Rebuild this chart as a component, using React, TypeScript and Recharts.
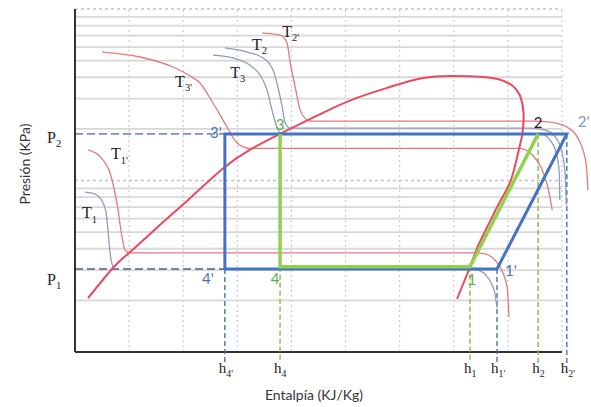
import React from 'react';
import { ComposedChart, Line, XAxis, YAxis, ReferenceLine, ReferenceDot } from 'recharts';

const SERIF = '"Liberation Serif", "DejaVu Serif", serif';
const SANS = 'Lato, "Open Sans", sans-serif';

const BLUE = '#4472c4';
const GREEN = '#92d050';
const RED = '#e84a5a';
const RED_THIN = '#e27a7a';
const GRAY_ISO = '#8e9cc2';

// pressure levels (log axis, arbitrary units)
const P1 = 3.05;
const P1_IDEAL = 3.14;
const P2 = 18.7;

// cycle state points
const stateNames = ['1', '2', '3', '4', "1'", "2'", "3'", "4'"];
const stateH = [73.0, 85.6, 37.9, 37.9, 78.0, 90.9, 27.7, 27.7];
const stateP = [P1_IDEAL, P2, P2, P1_IDEAL, P1, P2, P2, P1];

const idealOrder = ['3', '4', '1', '2'];
const realOrder = ["4'", "3'", "2'", "1'", "4'"];
const dropNames = ["4'", '4', '1', "1'", '2', "2'"];

// saturation dome
const dome = [
  { h: 2.4, p: 2.06 }, { h: 7.0, p: 3.09 }, { h: 10.2, p: 3.83 }, { h: 15.7, p: 5.5 },
  { h: 21.3, p: 7.91 }, { h: 27.4, p: 11.8 }, { h: 32.3, p: 15.1 }, { h: 37.9, p: 18.7 },
  { h: 45.8, p: 24.8 }, { h: 52.1, p: 30.3 }, { h: 58.2, p: 35.1 }, { h: 64.3, p: 39.6 },
  { h: 69.9, p: 40.7 }, { h: 74.8, p: 40.3 }, { h: 78.3, p: 38.9 }, { h: 80.9, p: 35.6 },
  { h: 82.3, p: 30.9 }, { h: 82.9, p: 24.8 }, { h: 82.7, p: 18.9 }, { h: 81.9, p: 14.5 },
  { h: 80.6, p: 10.1 }, { h: 78.7, p: 7.69 }, { h: 76.1, p: 5.29 }, { h: 74.4, p: 4.1 },
  { h: 73.0, p: 3.13 }, { h: 70.6, p: 2.04 },
];

// isotherms
const t1Left = [
  { h: 1.85, p: 8.56 }, { h: 3.7, p: 8.33 }, { h: 4.99, p: 7.6 }, { h: 5.73, p: 6.55 },
  { h: 6.1, p: 5.15 }, { h: 6.47, p: 3.83 }, { h: 6.84, p: 3.26 }, { h: 7.39, p: 3.05 },
];
const t1Right = [
  { h: 73.0, p: 3.05 }, { h: 74.9, p: 2.97 }, { h: 76.2, p: 2.74 }, { h: 77.1, p: 2.46 },
  { h: 77.6, p: 2.21 }, { h: 78.0, p: 1.81 },
];
const t1Prime = [
  { h: 2.4, p: 15.1 }, { h: 5.18, p: 13.2 }, { h: 6.28, p: 11.5 }, { h: 6.84, p: 10.07 },
  { h: 7.76, p: 7.39 }, { h: 8.69, p: 4.69 }, { h: 9.24, p: 3.93 }, { h: 10.17, p: 3.78 },
  { h: 73.9, p: 3.78 }, { h: 75.8, p: 3.73 }, { h: 77.6, p: 3.44 }, { h: 79.1, p: 2.89 },
  { h: 79.9, p: 2.36 }, { h: 80.2, p: 1.6 },
];
const t2 = [
  { h: 27.7, p: 59.3 }, { h: 31.8, p: 56.1 }, { h: 34.8, p: 51.8 }, { h: 36.6, p: 44.1 },
  { h: 37.5, p: 35.1 }, { h: 38.3, p: 26.8 }, { h: 38.8, p: 21.9 }, { h: 39.7, p: 20.2 },
  { h: 84.1, p: 20.2 }, { h: 86.9, p: 19.7 }, { h: 88.9, p: 17.7 }, { h: 90.0, p: 14.7 },
  { h: 90.6, p: 10.8 }, { h: 90.8, p: 7.2 },
];
const t2Prime = [
  { h: 34.6, p: 72.4 }, { h: 37.9, p: 70.5 }, { h: 39.2, p: 63.4 }, { h: 39.7, p: 50.4 },
  { h: 40.7, p: 35.1 }, { h: 41.6, p: 25.8 }, { h: 42.5, p: 23.1 }, { h: 43.4, p: 22.2 },
  { h: 85.0, p: 22.2 }, { h: 87.8, p: 21.9 }, { h: 90.9, p: 20.5 }, { h: 93.3, p: 16.8 },
  { h: 94.5, p: 12.3 }, { h: 94.8, p: 8.81 },
];
const t3 = [
  { h: 25.5, p: 53.9 }, { h: 29.2, p: 51.8 }, { h: 32.3, p: 47.1 }, { h: 34.2, p: 41.2 },
  { h: 35.5, p: 33.7 }, { h: 36.4, p: 25.8 }, { h: 37.3, p: 20.5 }, { h: 38.1, p: 18.7 },
  { h: 86.0, p: 18.7 }, { h: 87.8, p: 17.2 }, { h: 88.9, p: 14.7 }, { h: 89.5, p: 11.2 },
  { h: 89.6, p: 7.69 },
];
const t3Prime = [
  { h: 4.99, p: 56.1 }, { h: 12.0, p: 52.5 }, { h: 18.1, p: 45.9 }, { h: 21.3, p: 40.7 },
  { h: 23.1, p: 37.0 }, { h: 25.5, p: 28.3 }, { h: 28.1, p: 20.5 }, { h: 29.9, p: 16.6 },
  { h: 32.3, p: 15.4 }, { h: 82.3, p: 15.4 }, { h: 84.5, p: 14.1 }, { h: 86.1, p: 12.0 },
  { h: 87.4, p: 9.17 }, { h: 88.2, p: 6.73 },
];

// isotherm labels
const isoLabelSub = ['1', "1'", "3'", '3', '2', "2'"];
const isoLabelH = [1.3, 6.65, 18.5, 28.7, 32.7, 38.3];
const isoLabelP = [6.04, 13.3, 35.1, 39.6, 57.7, 68.7];

// axes / grid
const pTicks = [1, 2, 3, 4, 5, 6, 7, 8, 9, 10, 20, 30, 40, 50, 60, 70, 80, 90, 100];
const pGrid = [2, 3, 4, 5, 6, 7, 8, 9, 20, 30, 40, 50, 60, 70, 80, 90];
const pDecades = [10, 100];
const hGrid = [10, 20, 30, 40, 50, 60, 70, 80, 90];
const hTicks = [
  0, 3.33, 6.67, 10, 13.33, 16.67, 20, 23.33, 26.67, 30, 33.33, 36.67, 40, 43.33, 46.67,
  50, 53.33, 56.67, 60, 63.33, 66.67, 70, 73.33, 76.67, 80, 83.33, 86.67, 90,
];
const P_BELOW = 0.863;

const pt = (name: string) => {
  const i = stateNames.indexOf(name);
  return { h: stateH[i], p: stateP[i] };
};

const SubText = ({ x, y, main, sub, size, fill = '#222', family = SERIF, anchor = 'start' }: any) => (
  <text x={x} y={y} fontFamily={family} fontSize={size} fill={fill} textAnchor={anchor}>
    {main}
    <tspan fontSize={size * 0.66} dy={size * 0.28}>{sub}</tspan>
  </text>
);

const pointStyle: Record<string, { dx: number; dy: number; anchor: string; color: string }> = {
  '1': { dx: 2, dy: 18, anchor: 'middle', color: '#5aae45' },
  '2': { dx: 0, dy: -6, anchor: 'middle', color: '#222' },
  '3': { dx: 0, dy: -4, anchor: 'middle', color: '#5aae45' },
  '4': { dx: -5, dy: 17, anchor: 'middle', color: '#5aae45' },
  "1'": { dx: 8, dy: 7, anchor: 'start', color: '#4a6fc0' },
  "2'": { dx: 11, dy: -7, anchor: 'start', color: '#7f98cc' },
  "3'": { dx: -3, dy: 4, anchor: 'end', color: '#4a6fc0' },
  "4'": { dx: -17, dy: 15, anchor: 'middle', color: '#4a6fc0' },
};

export default function App() {
  const idealCycle = idealOrder.map(pt);
  const realCycle = realOrder.map(pt);

  return (
    <div style={{ position: 'fixed', left: 0, top: 0, background: '#fff' }}>
      <ComposedChart width={591} height={407} margin={{ top: 9, right: 2, left: 15, bottom: 25 }}>
        <XAxis
          dataKey="h"
          type="number"
          domain={[0, 95]}
          ticks={hTicks}
          interval={0}
          tick={false}
          tickSize={4}
          axisLine={false}
          tickLine={{ stroke: '#333', strokeWidth: 1.2 }}
          height={30}
          label={() => (
            <text x={314} y={400} textAnchor="middle" fontFamily={SANS} fontSize={14} fill="#333">
              Entalpía (KJ/Kg)
            </text>
          )}
        />
        <YAxis
          dataKey="p"
          type="number"
          scale="log"
          domain={[1, 100]}
          ticks={pTicks}
          interval={0}
          tick={false}
          tickSize={4}
          width={60}
          axisLine={{ stroke: '#333', strokeWidth: 2 }}
          tickLine={{ stroke: '#333', strokeWidth: 1.2 }}
          label={() => (
            <text
              x={30}
              y={164}
              transform="rotate(-90 30 164)"
              textAnchor="middle"
              fontFamily={SANS}
              fontSize={14}
              fill="#333"
            >
              Presión (KPa)
            </text>
          )}
        />

        {hGrid.map((v) => (
          <ReferenceLine key={'vg' + v} x={v} stroke="#cfcfcf" strokeWidth={1.3} strokeDasharray="2 3" />
        ))}
        {pGrid.map((v) => (
          <ReferenceLine
            key={'hg' + v}
            segment={[{ x: 0, y: v }, { x: 90, y: v }]}
            stroke="#d8d8d8"
            strokeWidth={1.8}
          />
        ))}
        {pDecades.map((v) => (
          <ReferenceLine
            key={'hd' + v}
            segment={[{ x: 0, y: v }, { x: 90, y: v }]}
            stroke="#c4c4c4"
            strokeWidth={1.3}
            strokeDasharray="3 3"
          />
        ))}
        <ReferenceLine segment={[{ x: 0, y: 1 }, { x: 90, y: 1 }]} stroke="#333" strokeWidth={2} />

        <ReferenceLine
          segment={[{ x: 0, y: P2 }, { x: pt("3'").h, y: P2 }]}
          stroke="#7b8fbf"
          strokeWidth={1.6}
          strokeDasharray="8 4"
          label={(props: any) => (
            <SubText x={props.viewBox.x - 28} y={props.viewBox.y + 9} main="P" sub="2" size={16} />
          )}
        />
        <ReferenceLine
          segment={[{ x: 0, y: P1 }, { x: pt("4'").h, y: P1 }]}
          stroke="#4d5d80"
          strokeWidth={1.6}
          strokeDasharray="8 4"
          label={(props: any) => (
            <SubText x={props.viewBox.x - 28} y={props.viewBox.y + 16} main="P" sub="1" size={16} />
          )}
        />
        {dropNames.map((n) => {
          const s = pt(n);
          const primed = n.includes("'");
          return (
            <ReferenceLine
              key={'drop' + n}
              segment={[{ x: s.h, y: s.p }, { x: s.h, y: P_BELOW }]}
              ifOverflow="visible"
              stroke={primed ? BLUE : '#86b84a'}
              strokeWidth={1.4}
              strokeDasharray="5 3"
              label={(props: any) => (
                <SubText
                  x={props.viewBox.x - 6}
                  y={props.viewBox.y + props.viewBox.height + 10}
                  main="h"
                  sub={n}
                  size={15}
                />
              )}
            />
          );
        })}

        <Line data={t1Left} dataKey="p" type="monotone" stroke={GRAY_ISO} strokeWidth={1.3} dot={false} isAnimationActive={false} />
        <Line data={t1Right} dataKey="p" type="monotone" stroke={GRAY_ISO} strokeWidth={1.3} dot={false} isAnimationActive={false} />
        <Line data={t1Prime} dataKey="p" type="monotone" stroke={RED_THIN} strokeWidth={1.3} dot={false} isAnimationActive={false} />
        <Line data={t2} dataKey="p" type="monotone" stroke={GRAY_ISO} strokeWidth={1.3} dot={false} isAnimationActive={false} />
        <Line data={t3} dataKey="p" type="monotone" stroke={GRAY_ISO} strokeWidth={1.3} dot={false} isAnimationActive={false} />
        <Line data={t2Prime} dataKey="p" type="monotone" stroke={RED_THIN} strokeWidth={1.3} dot={false} isAnimationActive={false} />
        <Line data={t3Prime} dataKey="p" type="monotone" stroke={RED_THIN} strokeWidth={1.3} dot={false} isAnimationActive={false} />
        <Line data={dome} dataKey="p" type="natural" stroke={RED} strokeWidth={2} dot={false} isAnimationActive={false} />

        <Line data={realCycle} dataKey="p" type="linear" stroke={BLUE} strokeWidth={3} dot={false} isAnimationActive={false} />
        <Line data={idealCycle} dataKey="p" type="linear" stroke={GREEN} strokeWidth={3.5} dot={false} isAnimationActive={false} />

        {isoLabelSub.map((s, i) => (
          <ReferenceDot
            key={'iso' + i}
            x={isoLabelH[i]}
            y={isoLabelP[i]}
            r={0}
            fill="none"
            stroke="none"
            ifOverflow="visible"
            label={(props: any) => (
              <SubText x={props.viewBox.x} y={props.viewBox.y} main="T" sub={s} size={16} />
            )}
          />
        ))}
        {stateNames.map((n, i) => {
          const st = pointStyle[n];
          return (
            <ReferenceDot
              key={'st' + n}
              x={stateH[i]}
              y={stateP[i]}
              r={0}
              fill="none"
              stroke="none"
              ifOverflow="visible"
              label={(props: any) => (
                <text
                  x={props.viewBox.x + st.dx}
                  y={props.viewBox.y + st.dy}
                  textAnchor={st.anchor}
                  fontFamily={SANS}
                  fontSize={15}
                  fill={st.color}
                >
                  {n}
                </text>
              )}
            />
          );
        })}
      </ComposedChart>
    </div>
  );
}
